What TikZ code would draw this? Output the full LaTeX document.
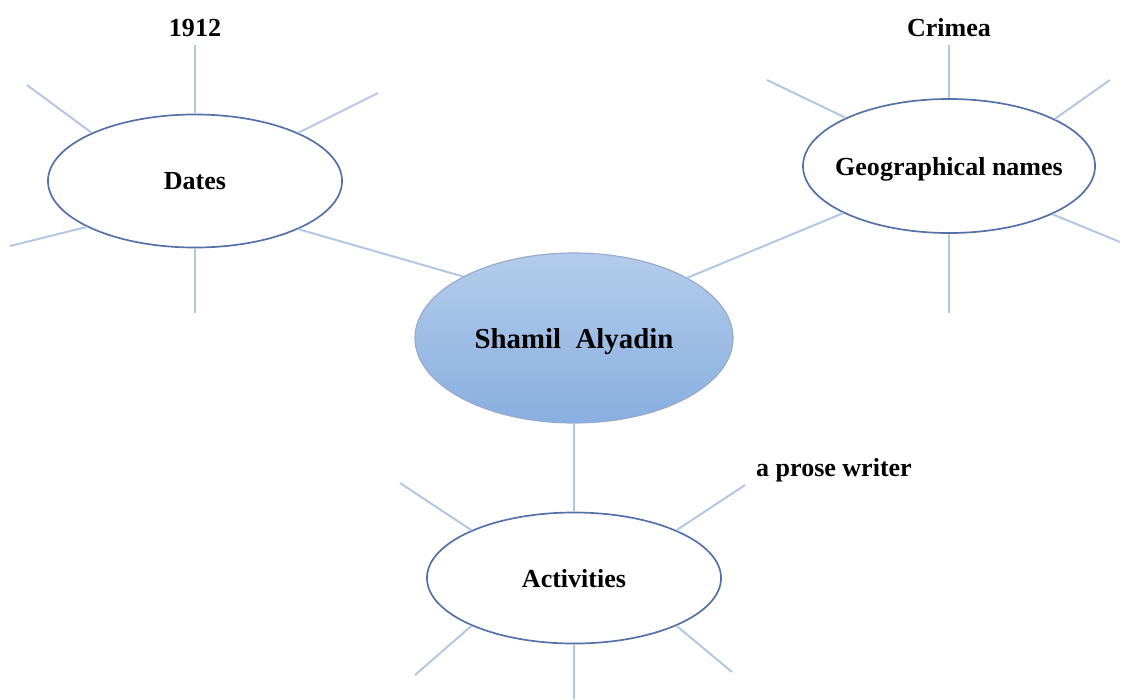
\documentclass[tikz,border=0pt]{standalone}
\usepackage{fontspec}
\setmainfont{Liberation Serif}
\usetikzlibrary{shapes.geometric}
\definecolor{hubtop}{RGB}{180,204,235}
\definecolor{hubbot}{RGB}{136,175,224}
\definecolor{rim}{RGB}{84,112,168}
\definecolor{ray}{RGB}{178,199,226}

\begin{document}
\begin{tikzpicture}[x=0.025cm,y=-0.025cm,
  topic/.style={ellipse,draw=rim,line width=1.2pt,fill=white,inner sep=0pt,text depth=0pt,
    font=\bfseries\fontsize{18.5}{22}\selectfont},
  hub/.style={ellipse,draw=rim!60,line width=0.8pt,top color=hubtop,bottom color=hubbot,
    inner sep=0pt,text depth=0pt,minimum width=7.95cm,minimum height=4.25cm,
    font=\bfseries\fontsize{20.5}{24}\selectfont},
  spoke/.style={draw=ray,line width=1.4pt},
  word/.style={font=\bfseries\fontsize{18.5}{22}\selectfont,inner sep=6pt}]
  \useasboundingbox (0,0) rectangle (1122,699);

  % the four ovals
  \node[hub] (hub) at (574,338) {Shamil\ \ Alyadin};
  \node[topic,minimum width=7.35cm,minimum height=3.325cm] (dates) at (195,181) {Dates};
  \node[topic,minimum width=7.3cm,minimum height=3.35cm,inner xsep=-0.3cm] (geo) at (949,166) {Geographical names};
  \node[topic,minimum width=7.35cm,minimum height=3.275cm] (act) at (574,578) {Activities};

  % words on the spokes
  \node[word,anchor=base] (year) at (195,36) {1912};
  \node[word,anchor=base] (place) at (949,36) {Crimea};
  \node[word,anchor=base] (job) at (834,476) {a prose writer};

  % links to the centre
  \draw[spoke] (dates.335) -- (hub.151.8);
  \draw[spoke] (geo.204.6) -- (hub.28.1);
  \draw[spoke] (hub) -- (act);
  \draw[spoke] (dates) -- (year);
  \draw[spoke] (geo) -- (place);

  % free spokes
  \foreach \a/\x/\y [count=\i] in {155.6/27/85, 25/378/93, 203/10/246, 270/195/313} {
    \coordinate (d\i) at (\x,\y);
    \draw[spoke] (dates.\a) -- (d\i);
  }
  \foreach \a/\x/\y [count=\i] in {155.8/767/80, 24.8/1110/80, 335.4/1120/242, 270/949/313} {
    \coordinate (g\i) at (\x,\y);
    \draw[spoke] (geo.\a) -- (g\i);
  }
  \foreach \a/\x/\y [count=\i] in {155.2/400/483, 25.5/745/485, 205/415/675, 335/732/672, 270/574/699} {
    \coordinate (a\i) at (\x,\y);
    \draw[spoke] (act.\a) -- (a\i);
  }
\end{tikzpicture}
\end{document}
